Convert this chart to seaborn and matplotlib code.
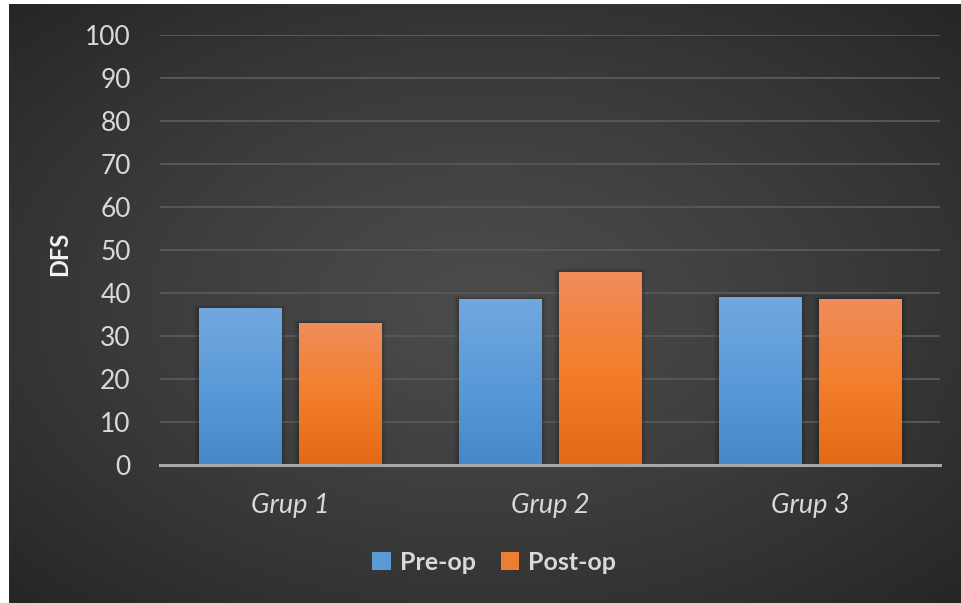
import numpy as np
import pandas as pd
import matplotlib
matplotlib.use('Agg')
import matplotlib.pyplot as plt
from matplotlib.colors import LinearSegmentedColormap
from matplotlib.patches import Rectangle
import seaborn as sns

# 数据
categories = ['Grup 1', 'Grup 2', 'Grup 3']
series_names = ['Pre-op', 'Post-op']
pre_op = [36.4, 38.5, 39.0]
post_op = [33.0, 45.0, 38.5]
y_ticks = [0, 10, 20, 30, 40, 50, 60, 70, 80, 90, 100]

sns.set_theme(style='dark')
plt.rcParams['font.family'] = ['Lato', 'DejaVu Sans']

df = pd.DataFrame({
    'group': categories * 2,
    'series': [series_names[0]] * 3 + [series_names[1]] * 3,
    'value': pre_op + post_op,
})

W, H = 961, 603
fig = plt.figure(figsize=(W / 100, H / 100), dpi=100, facecolor='white')

# 背景：径向渐变
bg = fig.add_axes([9 / W, 0, (W - 9) / W, (H - 4) / H])
yy, xx = np.mgrid[0:1:300j, 0:1:480j]
r = np.sqrt(((xx - 0.5) / 0.75) ** 2 + ((yy - 0.5) / 0.75) ** 2)
r = np.clip(r / r.max(), 0, 1)
bg_cmap = LinearSegmentedColormap.from_list('bg', ['#4b4b4b', '#262626'])
bg.imshow(r ** 1.3, cmap=bg_cmap, aspect='auto', extent=[0, 1, 0, 1], vmin=0, vmax=1)
bg.set_axis_off()

ax = fig.add_axes([160 / W, (H - 465) / H, 780 / W, 430 / H])
ax.patch.set_alpha(0)

palette = {'Pre-op': '#5b9bd5', 'Post-op': '#ed7d31'}
sns.barplot(data=df, x='group', y='value', hue='series', palette=palette,
            width=0.77, gap=0.18, ax=ax, legend=False, saturation=1)

ax.set_ylim(0, 100)
ax.set_xlim(-0.5, 2.5)
ax.set_yticks(y_ticks)
ax.yaxis.grid(True, color='#575757', linewidth=1.4)
ax.xaxis.grid(False)
ax.set_axisbelow(True)
for s in ['top', 'right', 'left']:
    ax.spines[s].set_visible(False)
ax.spines['bottom'].set_color('#a8a8a8')
ax.spines['bottom'].set_linewidth(2.2)
ax.spines['bottom'].set_zorder(5)

ax.tick_params(axis='y', length=0, pad=21, labelsize=19, labelcolor='#d9d9d9')
ax.tick_params(axis='x', length=0, pad=20, labelsize=19.5, labelcolor='#d9d9d9')
for lbl in ax.get_xticklabels():
    lbl.set_fontstyle('italic')
ax.set_xlabel('')
ax.set_ylabel('DFS', fontsize=17, fontweight='bold', color='#f2f2f2')
ax.yaxis.set_label_coords((71 - 160) / 780, (465 - 254) / 430)

# 渐变填充
grads = {
    'Pre-op': LinearSegmentedColormap.from_list('b', ['#4688c8', '#5a9ad8', '#71a8de']),
    'Post-op': LinearSegmentedColormap.from_list('o', ['#e26a16', '#f47e2c', '#f08c5c']),
}
for cont, name in zip(ax.containers, series_names):
    for p in cont.patches:
        x0, y0 = p.get_x(), p.get_y()
        w, h = p.get_width(), p.get_height()
        # 阴影
        for k in range(1, 6):
            dx = 0.0035 * k
            sh = Rectangle((x0 - dx, y0), w + 2 * dx, h + 0.15 * k,
                           facecolor='black', edgecolor='none', alpha=0.045, zorder=2)
            ax.add_patch(sh)
        grad = np.linspace(0, 1, 256).reshape(-1, 1)
        im = ax.imshow(grad, cmap=grads[name], aspect='auto', origin='lower',
                       extent=[x0, x0 + w, y0, y0 + h], zorder=3)
        im.set_clip_path(p)
        p.set_facecolor('none')
        p.set_edgecolor('none')
        p.set_zorder(3)
ax.set_xlim(-0.5, 2.5)
ax.set_ylim(0, 100)

handles = [Rectangle((0, 0), 1, 1, facecolor=palette[n], edgecolor='none') for n in series_names]
leg = fig.legend(handles=handles, labels=series_names, loc='center',
                 bbox_to_anchor=(494 / W, (H - 562) / H),
                 ncol=2, frameon=False, handlelength=0.75, handleheight=0.75,
                 handletextpad=0.35, columnspacing=1.0,
                 prop={'weight': 'bold', 'size': 18, 'family': ['Lato', 'DejaVu Sans']})
for t in leg.get_texts():
    t.set_color('#d9d9d9')

fig.savefig('out.png', dpi=100, facecolor='white')
